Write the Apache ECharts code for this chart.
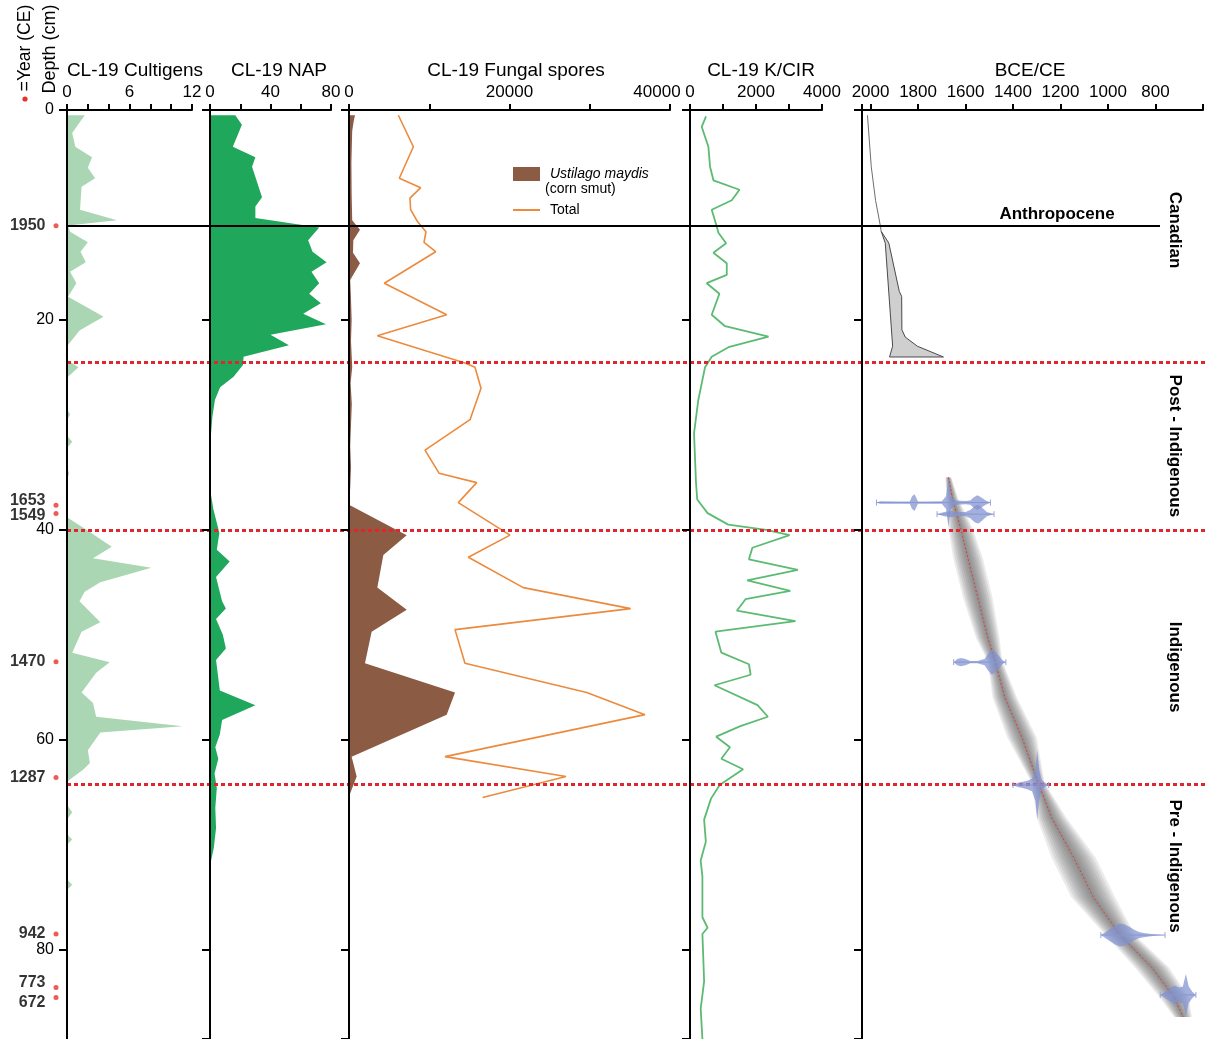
<!DOCTYPE html>
<html>
<head>
<meta charset="utf-8">
<script src="https://cdn.jsdelivr.net/npm/echarts@6/dist/echarts.min.js"></script>
<style>
  html, body { margin: 0; padding: 0; background: #fff; }
  #chart { width: 1206px; height: 1039px; }
</style>
</head>
<body>
<div id="chart"></div>
<script>
// ---------- core CL-19 data (depth in cm) ----------
const DEPTH_MAX = 88.5;

// Cultigens (%)
const cultDepth = [0.5, 2.2, 3.5, 4.5, 5.5, 6.5, 7.3, 9.5, 10.5, 11.0, 11.6, 12.6, 13.5, 14.5, 15.4, 16.5, 17.8, 19.3, 19.7, 21.0, 22.5, 23.8, 24.5, 25.5, 28.5, 29.0, 29.5, 31.0, 31.6, 32.2, 34.0, 34.6, 35.2, 38.8, 40.0, 41.6, 42.7, 43.6, 45.0, 45.9, 46.8, 48.8, 49.7, 51.7, 52.6, 53.6, 55.5, 56.5, 57.8, 58.7, 59.3, 61.0, 62.2, 62.8, 64.0, 66.2, 66.9, 67.6, 69.0, 69.5, 70.0, 73.3, 73.8, 74.3];
const cultPct   = [1.7, 0.5, 0.8, 2.4, 2.0, 2.7, 1.4, 1.25, 4.8, 0.1, 0.3, 2.0, 1.3, 1.8, 0.3, 0.9, 0.1, 2.8, 3.5, 1.2, 0.0, 0.0, 1.1, 0.0, 0.0, 0.3, 0.0, 0.0, 0.5, 0.0, 0.0, 0.2, 0.0, 0.0, 1.9, 4.3, 2.5, 8.1, 3.2, 1.7, 1.2, 3.2, 1.4, 0.5, 4.1, 2.8, 1.4, 2.5, 2.8, 11.1, 3.2, 2.0, 2.2, 1.6, 0.0, 0.0, 0.5, 0.0, 0.0, 0.5, 0.0, 0.0, 0.5, 0.0];

// Non-arboreal pollen (%)
const napDepth = [0.5, 1.4, 3.5, 4.5, 5.4, 8.3, 9.2, 10.3, 11.2, 12.4, 13.5, 14.5, 15.4, 16.5, 17.5, 18.4, 19.4, 20.4, 21.4, 22.4, 23.5, 24.3, 25.4, 26.4, 27.6, 29.2, 30.8, 33.0, 35.5, 36.5, 38.0, 40.3, 41.9, 43.0, 44.5, 46.8, 47.5, 48.5, 50.0, 51.3, 52.4, 55.3, 56.7, 58.1, 59.5, 60.7, 61.8, 63.2, 64.6, 66.5, 68.4, 70.3, 71.3, 72.1];
const napPct   = [16.7, 21.1, 15.1, 30.0, 27.8, 34.4, 30.0, 30.0, 72.2, 64.9, 67.8, 77.1, 67.1, 72.2, 65.6, 73.3, 61.6, 76.7, 40.0, 52.2, 22.2, 21.8, 15.6, 6.7, 3.3, 1.6, 0.7, 0.3, 0.3, 0.5, 2.2, 6.2, 4.5, 13.0, 4.0, 8.0, 10.5, 4.0, 8.5, 10.5, 4.0, 6.5, 30.0, 8.0, 6.5, 3.5, 5.5, 3.0, 4.5, 3.5, 4.0, 2.5, 1.0, 0.0];

// Fungal spores: Ustilago maydis
const smutDepth = [0.5, 1.0, 2.0, 5.0, 8.0, 10.5, 11.4, 12.4, 13.6, 14.6, 16.2, 18.0, 20.0, 22.0, 24.5, 26.0, 28.0, 30.0, 32.0, 34.0, 36.0, 37.6, 40.5, 42.4, 45.5, 47.6, 49.7, 52.7, 55.5, 57.6, 61.6, 63.5, 65.4];
const smutCount = [750, 600, 400, 300, 330, 400, 1370, 540, 500, 1370, 150, 250, 330, 250, 400, 200, 350, 250, 150, 250, 150, 0, 7190, 4280, 3530, 7190, 2820, 1990, 13210, 12170, 330, 955, 0];

// Fungal spores: total
const sporeDepth = [0.5, 3.5, 6.5, 7.4, 8.4, 9.5, 10.6, 11.6, 12.6, 13.5, 16.5, 19.5, 21.5, 24.1, 24.5, 26.5, 29.5, 32.4, 34.6, 35.5, 37.4, 40.5, 42.6, 45.5, 47.5, 49.5, 52.7, 55.5, 57.6, 61.6, 63.5, 65.5];
const sporeTotal = [6150, 8020, 6270, 8930, 7600, 7680, 8510, 9590, 9350, 10800, 4400, 12170, 3530, 14450, 15700, 16450, 15080, 9470, 11220, 15910, 13620, 20060, 14870, 21720, 35100, 13210, 14450, 29620, 36880, 11960, 27040, 16650];

// K / CIR ratio
const kcirDepth = [0.6, 1.6, 3.5, 5.4, 6.7, 7.6, 8.6, 9.5, 11.1, 11.7, 12.7, 13.6, 14.6, 15.7, 16.5, 17.5, 19.5, 20.6, 21.6, 22.6, 23.5, 24.5, 27.6, 30.8, 35.5, 37.1, 38.4, 39.5, 40.0, 40.5, 41.7, 42.8, 43.8, 44.8, 45.8, 46.6, 47.7, 48.7, 49.7, 51.7, 52.8, 53.8, 54.8, 56.7, 57.8, 58.7, 59.7, 60.7, 61.8, 62.8, 64.3, 65.6, 67.6, 69.7, 71.5, 73.0, 76.9, 77.9, 78.5, 83.0, 85.6, 88.5];
const kcirValue = [486, 354, 557, 608, 709, 1499, 1266, 658, 810, 861, 1094, 709, 1114, 1114, 506, 891, 658, 1063, 2380, 1165, 658, 456, 253, 122, 182, 219, 533, 1159, 2308, 3018, 1890, 1786, 3269, 1734, 3039, 1681, 1420, 3196, 773, 950, 1786, 1838, 741, 2047, 2360, 1525, 794, 1211, 950, 1608, 898, 637, 428, 480, 324, 376, 376, 533, 376, 428, 324, 376];

// ---------- age–depth model (years CE) ----------
// recent section: trend line and envelope
const recentDepth = [0.5, 5.4, 8.6, 11.0, 11.57];
const recentYear  = [2013, 1997, 1979, 1959, 1955];
const leadYoungDepth = [11.57, 12.68, 22.5, 23.53];
const leadYoungYear  = [1955, 1938, 1907, 1920];
const leadOldDepth   = [11.57, 12.68, 17.28, 17.76, 20.93, 21.63, 22.5, 23.53];
const leadOldYear    = [1955, 1923, 1879, 1869, 1868, 1854, 1803, 1693];

// radiocarbon section: envelope bounds and median
const ageDepth  = [35.0, 37.0, 39.9, 42.7, 46.5, 50.3, 52.5, 56.0, 59.8, 64.1, 67.4, 71.2, 75.0, 78.6, 81.7, 84.5, 86.4];
const ageYoung  = [1685, 1680, 1672, 1652, 1610, 1556, 1507, 1486, 1424, 1321, 1300, 1238, 1155, 1011, 887, 784, 722];
const ageOld    = [1660, 1631, 1569, 1527, 1486, 1457, 1445, 1383, 1300, 1267, 1176, 1052, 970, 887, 743, 660, 647];
const ageMedian = [1672, 1655, 1620, 1590, 1548, 1506, 1476, 1434, 1362, 1294, 1238, 1145, 1062, 949, 815, 722, 684];

// calibrated date distributions: depth, calendar years, half-height (cm)
const dateDepth = [37.4, 38.5, 52.6, 64.3, 78.6, 84.3];
const dateYears = [
  [1975, 1960, 1890, 1835, 1825, 1815, 1800, 1760, 1700, 1682, 1672, 1662, 1640, 1600, 1580, 1565, 1550, 1535, 1515, 1495],
  [1720, 1690, 1660, 1640, 1600, 1580, 1560, 1545, 1530, 1510, 1480],
  [1650, 1635, 1620, 1600, 1580, 1550, 1520, 1505, 1490, 1475, 1460, 1445, 1430],
  [1400, 1380, 1360, 1340, 1320, 1306, 1298, 1290, 1280, 1265, 1250],
  [1030, 1010, 990, 970, 950, 930, 910, 890, 870, 850, 820, 790, 760],
  [780, 760, 740, 720, 700, 685, 672, 660, 645, 630]
];
const dateHalf = [
  [0, 0.12, 0.1, 0.1, 0.6, 0.8, 0.1, 0.1, 0.12, 0.6, 2.3, 0.6, 0.2, 0.15, 0.2, 0.5, 0.7, 0.5, 0.2, 0],
  [0, 0.2, 0.3, 0.2, 0.2, 0.4, 0.8, 0.9, 0.6, 0.2, 0],
  [0, 0.3, 0.4, 0.3, 0.1, 0.1, 0.3, 0.8, 1.2, 1.0, 0.6, 0.2, 0],
  [0, 0.2, 0.3, 0.4, 0.6, 1.5, 3.3, 1.5, 0.5, 0.2, 0],
  [0, 0.3, 0.6, 0.9, 1.1, 1.0, 0.8, 0.5, 0.3, 0.2, 0.1, 0.05, 0],
  [0, 0.3, 0.6, 0.9, 0.7, 0.8, 2.0, 0.8, 0.3, 0]
];

// Dated levels (Year CE markers on the depth scale)
const yearLabels = ['1950', '1653', '1549', '1470', '1287', '942', '773', '672'];
const yearDepth  = [11.02, 37.65, 38.45, 52.55, 63.6, 78.5, 83.6, 84.55];

// Zones and boundaries
const zoneNames = ['Canadian', 'Post - Indigenous', 'Indigenous', 'Pre - Indigenous'];
const zoneLabelDepth = [11.4, 31.9, 52.9, 71.8];
const boundaryDepth = [24.03, 40.0, 64.2];
const anthropoceneDepth = 11.02;

// Tick labels shown on each axis
const depthTickLabels = [0, 20, 40, 60, 80];
const cultTickLabels = [0, 6, 12];
const napTickLabels = [0, 40, 80];
const sporeTickLabels = [0, 20000, 40000];
const kcirTickLabels = [0, 2000, 4000];
const ageTickLabels = [2000, 1800, 1600, 1400, 1200, 1000, 800];

// ---------- layout ----------
const FONT = "'Liberation Sans', Arial, Helvetica, sans-serif";
const INK = '#000';
const TOP = 110;
const PX_PER_CM = 10.53;
const PH = DEPTH_MAX * PX_PER_CM;

const panels = [
  { left: 67,  width: 125,   min: 0,   max: 12,    interval: 2,     labels: cultTickLabels },
  { left: 210, width: 121,   min: 0,   max: 80,    interval: 20,    labels: napTickLabels },
  { left: 349, width: 321,   min: 0,   max: 40000, interval: 10000, labels: sporeTickLabels, shiftMax: 26 },
  { left: 690, width: 132,   min: 0,   max: 4000,  interval: 1000,  labels: kcirTickLabels },
  { left: 862, width: 347.4, min: 600, max: 2036,  interval: 200,   labels: ageTickLabels, inverse: true }
];

const axisLineStyle = { color: '#000', width: 2 };

const grids = [], xAxes = [], yAxes = [];
panels.forEach((p, i) => {
  grids.push({ left: p.left, top: TOP, width: p.width, height: PH });
  xAxes.push({
    gridIndex: i, type: 'value', position: 'top', min: p.min, max: p.max, interval: p.interval,
    inverse: !!p.inverse, z: 10,
    axisLine: { show: true, onZero: false, lineStyle: axisLineStyle },
    axisTick: { show: true, length: 6, lineStyle: axisLineStyle },
    splitLine: { show: false },
    axisLabel: {
      show: true, showMinLabel: true, showMaxLabel: true, margin: 9,
      fontSize: 17, color: INK, fontFamily: FONT,
      formatter: v => {
        if (!p.labels.includes(v)) return '';
        if (p.shiftMax && v === p.max) return '{s|' + v + '}';
        return String(v);
      },
      rich: p.shiftMax ? { s: { fontSize: 17, color: INK, fontFamily: FONT, padding: [0, p.shiftMax, 0, 0] } } : undefined
    }
  });
  yAxes.push({
    gridIndex: i, type: 'value', inverse: true, min: 0, max: DEPTH_MAX, interval: 20, z: 10,
    axisLine: { show: true, onZero: false, lineStyle: axisLineStyle },
    axisTick: { show: true, length: 8, lineStyle: axisLineStyle },
    splitLine: { show: false },
    axisLabel: {
      show: i === 0, margin: 13, fontSize: 16, color: INK, fontFamily: FONT,
      showMaxLabel: false,
      formatter: v => depthTickLabels.includes(v) ? String(v) : ''
    }
  });
});

// grid 5: year markers left of the depth axis
grids.push({ left: 0, top: TOP, width: 67, height: PH });
xAxes.push({ gridIndex: 5, type: 'value', min: 0, max: 67, show: false });
yAxes.push({ gridIndex: 5, type: 'value', inverse: true, min: 0, max: DEPTH_MAX, show: false });

// grid 6: zone boundaries running across all panels
grids.push({ left: 67, top: TOP, width: 1139, height: PH });
xAxes.push({ gridIndex: 6, type: 'value', min: 0, max: 1139, show: false });
yAxes.push({ gridIndex: 6, type: 'value', inverse: true, min: 0, max: DEPTH_MAX, show: false });

// ---------- series helpers ----------
function profileArea(name, gi, depths, values, color) {
  return {
    name, type: 'custom', xAxisIndex: gi, yAxisIndex: gi, z: 2, silent: true,
    itemStyle: { color },
    data: depths.map((d, i) => [values[i], d]),
    encode: { x: 0, y: 1 },
    renderItem(params, api) {
      if (params.dataIndex !== 0) return null;
      const pts = [api.coord([0, depths[0]])];
      depths.forEach((d, i) => pts.push(api.coord([values[i], d])));
      pts.push(api.coord([0, depths[depths.length - 1]]));
      return { type: 'polygon', shape: { points: pts }, style: { fill: color } };
    }
  };
}

function profileLine(name, gi, depths, values, color, width) {
  return {
    name, type: 'line', xAxisIndex: gi, yAxisIndex: gi, z: 3, silent: true,
    showSymbol: false, symbol: 'none', color,
    lineStyle: { color, width },
    data: depths.map((d, i) => [values[i], d])
  };
}

// envelope of the recent (lead-dated) section
const leadEnvelope = {
  type: 'custom', xAxisIndex: 4, yAxisIndex: 4, z: 3, silent: true,
  data: leadYoungDepth.map((d, i) => [leadYoungYear[i], d]),
  encode: { x: 0, y: 1 },
  renderItem(params, api) {
    if (params.dataIndex !== 0) return null;
    const pts = [];
    leadYoungDepth.forEach((d, i) => pts.push(api.coord([leadYoungYear[i], d])));
    for (let i = leadOldDepth.length - 1; i >= 0; i--) pts.push(api.coord([leadOldYear[i], leadOldDepth[i]]));
    return { type: 'polygon', shape: { points: pts }, style: { fill: '#cfcfcf', stroke: '#4a4a4a', lineWidth: 1 } };
  }
};

// radiocarbon envelope, shaded darker toward the median
const ageEnvelope = {
  type: 'custom', xAxisIndex: 4, yAxisIndex: 4, z: 3, silent: true,
  data: ageDepth.map((d, i) => [ageMedian[i], d]),
  encode: { x: 0, y: 1 },
  renderItem(params, api) {
    if (params.dataIndex !== 0) return null;
    const layers = 8, children = [];
    for (let k = 0; k < layers; k++) {
      const f = 1 - k / layers;
      const pts = [];
      ageDepth.forEach((d, i) => pts.push(api.coord([ageMedian[i] + (ageYoung[i] - ageMedian[i]) * f, d])));
      for (let i = ageDepth.length - 1; i >= 0; i--) {
        pts.push(api.coord([ageMedian[i] + (ageOld[i] - ageMedian[i]) * f, ageDepth[i]]));
      }
      children.push({ type: 'polygon', shape: { points: pts }, style: { fill: 'rgba(90,90,90,0.12)' } });
    }
    return { type: 'group', children };
  }
};

// calibrated date distributions drawn as mirrored shapes with range bars
const dateShapes = {
  type: 'custom', xAxisIndex: 4, yAxisIndex: 4, z: 5, silent: true,
  data: dateDepth.map((d, i) => [dateYears[i][0], d]),
  encode: { x: 0, y: 1 },
  renderItem(params, api) {
    const i = params.dataIndex, d = dateDepth[i], yrs = dateYears[i], hh = dateHalf[i];
    const pts = [];
    yrs.forEach((y, k) => pts.push(api.coord([y, d - hh[k]])));
    for (let k = yrs.length - 1; k >= 0; k--) pts.push(api.coord([yrs[k], d + hh[k]]));
    const a = api.coord([yrs[0], d]), b = api.coord([yrs[yrs.length - 1], d]);
    return {
      type: 'group', children: [
        { type: 'line', shape: { x1: a[0], y1: a[1], x2: b[0], y2: b[1] }, style: { stroke: '#9aa6d6', lineWidth: 1 } },
        { type: 'line', shape: { x1: a[0], y1: a[1] - 3, x2: a[0], y2: a[1] + 3 }, style: { stroke: '#9aa6d6', lineWidth: 1 } },
        { type: 'line', shape: { x1: b[0], y1: b[1] - 3, x2: b[0], y2: b[1] + 3 }, style: { stroke: '#9aa6d6', lineWidth: 1 } },
        { type: 'polygon', shape: { points: pts }, style: { fill: 'rgba(128,144,206,0.72)' } }
      ]
    };
  }
};

const series = [
  profileArea('Cultigens', 0, cultDepth, cultPct, '#abd6b4'),
  profileArea('NAP', 1, napDepth, napPct, '#1fa75c'),
  profileArea('Ustilago maydis', 2, smutDepth, smutCount, '#8b5b43'),
  profileLine('Total', 2, sporeDepth, sporeTotal, '#ec8a3d', 1.6),
  profileLine('K/CIR', 3, kcirDepth, kcirValue, '#5cbb72', 1.8),
  profileLine('Recent', 4, recentDepth, recentYear, '#6e6e6e', 1),
  leadEnvelope,
  ageEnvelope,
  {
    type: 'line', xAxisIndex: 4, yAxisIndex: 4, z: 4, silent: true, symbol: 'none',
    lineStyle: { color: '#e33b3b', width: 1, type: [2, 2] },
    data: ageDepth.map((d, i) => [ageMedian[i], d])
  },
  dateShapes,
  {
    type: 'scatter', xAxisIndex: 5, yAxisIndex: 5, silent: true,
    symbolSize: 5, itemStyle: { color: '#e8322d' },
    data: yearDepth.map((d, i) => ({
      value: [56, d],
      label: { offset: [0, ({ '1653': -5, '1549': 2, '773': -5, '672': 5 })[yearLabels[i]] || 0] }
    })),
    label: {
      show: true, position: 'left', distance: 8,
      formatter: p => yearLabels[p.dataIndex],
      fontSize: 16, fontWeight: 'bold', color: INK, fontFamily: FONT
    }
  },
  {
    type: 'line', xAxisIndex: 6, yAxisIndex: 6, z: 6, silent: true, data: [],
    markLine: {
      silent: true, symbol: ['none', 'none'], label: { show: false }, animation: false,
      data: [
        [{ coord: [0, anthropoceneDepth], lineStyle: { color: '#000', width: 2, type: 'solid' } },
         { coord: [1093, anthropoceneDepth] }],
        ...boundaryDepth.map(d => ({ yAxis: d, lineStyle: { color: '#e0262c', width: 3, type: [4, 3] } }))
      ]
    }
  }
];

// ---------- text ----------
const titleStyle = { fontSize: 19, fill: INK, fontFamily: FONT, align: 'center', verticalAlign: 'middle' };
const graphics = [
  { type: 'text', x: 135, y: 71, style: Object.assign({ text: 'CL-19 Cultigens' }, titleStyle) },
  { type: 'text', x: 279, y: 71, style: Object.assign({ text: 'CL-19 NAP' }, titleStyle) },
  { type: 'text', x: 516, y: 71, style: Object.assign({ text: 'CL-19 Fungal spores' }, titleStyle) },
  { type: 'text', x: 761, y: 71, style: Object.assign({ text: 'CL-19 K/CIR' }, titleStyle) },
  { type: 'text', x: 1030, y: 71, style: Object.assign({ text: 'BCE/CE' }, titleStyle) },
  { type: 'text', x: 50, y: 49, rotation: Math.PI / 2,
    style: { text: 'Depth (cm)', fontSize: 18, fill: INK, fontFamily: FONT, align: 'center', verticalAlign: 'middle' } },
  { type: 'text', x: 25, y: 48, rotation: Math.PI / 2,
    style: { text: '=Year (CE)', fontSize: 17.5, fill: INK, fontFamily: FONT, align: 'center', verticalAlign: 'middle' } },
  { type: 'circle', shape: { cx: 25, cy: 99, r: 2.6 }, style: { fill: '#e8322d' } },
  { type: 'text', x: 1057, y: 214,
    style: { text: 'Anthropocene', fontSize: 17, fontWeight: 'bold', fill: INK, fontFamily: FONT, align: 'center', verticalAlign: 'middle' } },
  { type: 'text', x: 545, y: 189,
    style: { text: '(corn smut)', fontSize: 14, fill: INK, fontFamily: FONT, align: 'left', verticalAlign: 'middle' } }
];
zoneNames.forEach((name, i) => {
  graphics.push({
    type: 'text', x: 1175, y: TOP + zoneLabelDepth[i] * PX_PER_CM, rotation: -Math.PI / 2,
    style: { text: name, fontSize: 17, fontWeight: 'bold', fill: INK, fontFamily: FONT, align: 'center', verticalAlign: 'middle' }
  });
});

const chart = echarts.init(document.getElementById('chart'), null, { renderer: 'canvas' });
chart.setOption({
  animation: false,
  backgroundColor: '#fff',
  textStyle: { fontFamily: FONT },
  grid: grids, xAxis: xAxes, yAxis: yAxes,
  legend: [
    {
      data: [{ name: 'Ustilago maydis', icon: 'rect' }], left: 508, top: 162, itemWidth: 27, itemHeight: 14,
      selectedMode: false,
      formatter: n => '{a|' + n + '}',
      textStyle: { fontSize: 14, color: INK, fontFamily: FONT,
        rich: { a: { fontSize: 14, fontStyle: 'italic', color: INK, fontFamily: FONT, padding: [0, 0, 0, 5] } } }
    },
    {
      data: [{ name: 'Total', icon: 'rect' }], left: 508, top: 198, itemWidth: 27, itemHeight: 2,
      selectedMode: false,
      formatter: n => '{a|' + n + '}',
      textStyle: { fontSize: 14, color: INK, fontFamily: FONT,
        rich: { a: { fontSize: 14, color: INK, fontFamily: FONT, padding: [0, 0, 0, 5] } } }
    }
  ],
  series,
  graphic: graphics
});
</script>
</body>
</html>
